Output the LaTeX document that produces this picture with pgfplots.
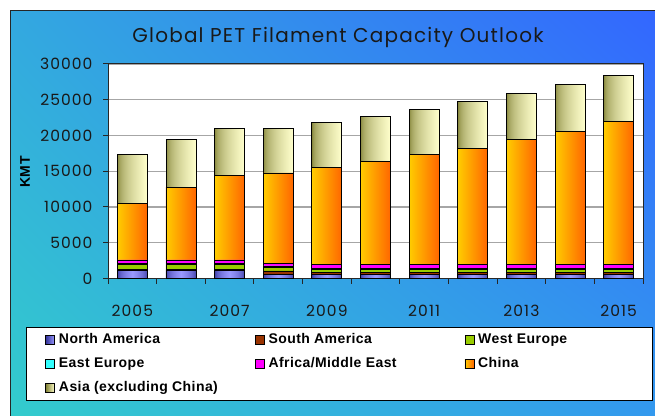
\documentclass[border=0pt]{standalone}
\usepackage{pgfplots}
\pgfplotsset{compat=1.18}
\usepackage{pgfplotstable}
\usetikzlibrary{shadings}
\usepackage{fontspec}
\setmainfont{Poppins}
\newfontfamily\titlefont{Poppins}[LetterSpace=6]
\newfontfamily\tickfont{Poppins}[LetterSpace=7]
\newfontfamily\arial{Liberation Sans}[LetterSpace=3]

\definecolor{bgTL}{HTML}{33A8E0}
\definecolor{bgTR}{HTML}{3366FF}
\definecolor{bgBL}{HTML}{33CCCC}
\definecolor{bgBR}{HTML}{3399EE}
\definecolor{NAd}{HTML}{333399}
\definecolor{NAl}{HTML}{9999FF}
\definecolor{SAc}{HTML}{993300}
\definecolor{WEc}{HTML}{99CC00}
\definecolor{EEc}{HTML}{33FFFF}
\definecolor{AMc}{HTML}{FF00FF}
\definecolor{CNl}{HTML}{FFCC00}
\definecolor{CNr}{HTML}{FF6600}
\definecolor{ASl}{HTML}{808033}
\definecolor{ASr}{HTML}{FFFFCC}

% shadings that repeat once per bar (pitch 48.64pt, bar 30pt, 11 bars)
\pgfdeclarefunctionalshading{cnshade}{\pgfpoint{-50bp}{-50bp}}{\pgfpoint{50bp}{50bp}}{}{
  pop 25 add 4.7095 div dup floor sub 1.6212 mul dup 1 gt {pop 1} if
  0.4 mul 0.8 exch sub 1 exch 0 }
\pgfdeclarefunctionalshading{asshade}{\pgfpoint{-50bp}{-50bp}}{\pgfpoint{50bp}{50bp}}{}{
  pop 25 add 4.7095 div dup floor sub 1.6212 mul dup 1 gt {pop 1} if
  sqrt dup 0.5 mul 0.5 add exch dup 0.5 mul 0.5 add exch 0.6 mul 0.2 add }
\pgfdeclarefunctionalshading{nashade}{\pgfpoint{-50bp}{-50bp}}{\pgfpoint{50bp}{50bp}}{}{
  pop 25 add 4.7095 div dup floor sub 1.6212 mul dup 1 gt {pop 1} if
  2 mul 1 sub abs 1 exch sub sqrt
  dup 0.4 mul 0.2 add exch dup 0.4 mul 0.2 add exch 0.4 mul 0.6 add }

% capacity by region, KMT
\pgfplotstableread{
x year NA SA WE EE AME CN AS
0 2005 1150 100 700 100 550 7940 6760
1 2006 1150 100 700 100 550 10180 6720
2 2007 1150 100 700 100 550 11780 6650
3 2008 600 450 550 150 350 12660 6270
4 2009 550 250 500 150 550 13510 6280
5 2010 550 250 500 150 550 14400 6280
6 2011 550 250 500 150 550 15300 6320
7 2012 550 250 500 150 550 16240 6560
8 2013 550 250 500 150 550 17480 6460
9 2014 550 250 500 150 550 18520 6680
10 2015 550 250 500 150 550 19970 6490
}\capdata

\pgfplotsset{
  sq/.style={draw=black, line width=0.8pt,
    legend image code/.code={\draw[##1, line width=0.6pt] (0pt,-4.5pt) rectangle (9pt,4.5pt);}},
  sqshade/.style 2 args={draw=black, line width=0.8pt,
    legend image code/.code={\draw[black, line width=0.6pt, left color=#1, right color=#2]
      (0pt,-4.5pt) rectangle (9pt,4.5pt);}},
}

\begin{document}
\begin{tikzpicture}
  \useasboundingbox (0pt,0pt) rectangle (655pt,415pt);
  \shade[upper left=bgTL, upper right=bgTR, lower left=bgBL, lower right=bgBR]
    (10pt,-5pt) rectangle (660pt,404pt);
  \draw[black!85, line width=1pt] (10pt,-5pt) -- (10pt,404pt) -- (660pt,404pt);
  \node[text=black!90, font=\titlefont\fontsize{20}{24}\selectfont] at (338pt,378pt)
    {Global PET Filament Capacity Outlook};
  \node[rotate=90, font=\arial\bfseries\fontsize{14}{16}\selectfont] at (25pt,243pt) {KMT};
  \begin{axis}[
      at={(108pt,136.5pt)}, anchor=south west,
      scale only axis, width=535pt, height=214.5pt,
      ybar stacked, bar width=30pt,
      xmin=-0.5, xmax=10.5, ymin=0, ymax=30000,
      ytick={0,5000,...,30000},
      scaled y ticks=false,
      xtick={-0.5,0.5,...,10.5}, xticklabels={},
      extra x ticks={0,2,...,10},
      extra x tick labels={2005,2007,2009,2011,2013,2015},
      extra x tick style={major tick length=0pt, grid=none},
      xtick pos=lower, ytick pos=left,
      tick align=outside, major tick length=5pt,
      tick style={draw=black!85, line width=1pt},
      ymajorgrids, grid style={draw=gray!70, line width=1.2pt},
      axis background/.style={fill=white},
      axis line style={draw=black!85, line width=1pt},
      tick label style={font=\tickfont\fontsize{15.5}{18}\selectfont, text=black!90},
      /pgf/number format/assume math mode=true,
      /pgf/number format/1000 sep={},
      yticklabel style={xshift=-7pt},
      xticklabel style={yshift=-23pt},
      legend columns=3,
      legend style={at={(-0.1533,-0.2261)}, anchor=north west,
        draw=black, fill=white, line width=0.8pt,
        inner xsep=19pt, inner ysep=6pt, row sep=11pt,
        font=\arial\bfseries\fontsize{14}{16}\selectfont,
        nodes={inner xsep=4pt, inner ysep=0pt, text height=10pt, text depth=3pt}},
    ]
    \addplot[sqshade={NAd}{NAl}, shade, shading=nashade] table[x=x, y=NA] {\capdata};
    \addlegendentry{\makebox[192pt][l]{North America}}
    \addplot[sq, fill=SAc] table[x=x, y=SA] {\capdata};
    \addlegendentry{\makebox[192pt][l]{South America}}
    \addplot[sq, fill=WEc] table[x=x, y=WE] {\capdata};
    \addlegendentry{\makebox[151pt][l]{West Europe}}
    \addplot[sq, fill=EEc] table[x=x, y=EE] {\capdata};
    \addlegendentry{\makebox[192pt][l]{East Europe}}
    \addplot[sq, fill=AMc] table[x=x, y=AME] {\capdata};
    \addlegendentry{\makebox[192pt][l]{Africa/Middle East}}
    \addplot[sqshade={CNl}{CNr}, shade, shading=cnshade] table[x=x, y=CN] {\capdata};
    \addlegendentry{\makebox[151pt][l]{China}}
    \addplot[sqshade={ASl}{ASr}, shade, shading=asshade] table[x=x, y=AS] {\capdata};
    \addlegendentry{\makebox[192pt][l]{Asia (excluding China)}}
  \end{axis}
\end{tikzpicture}
\end{document}
